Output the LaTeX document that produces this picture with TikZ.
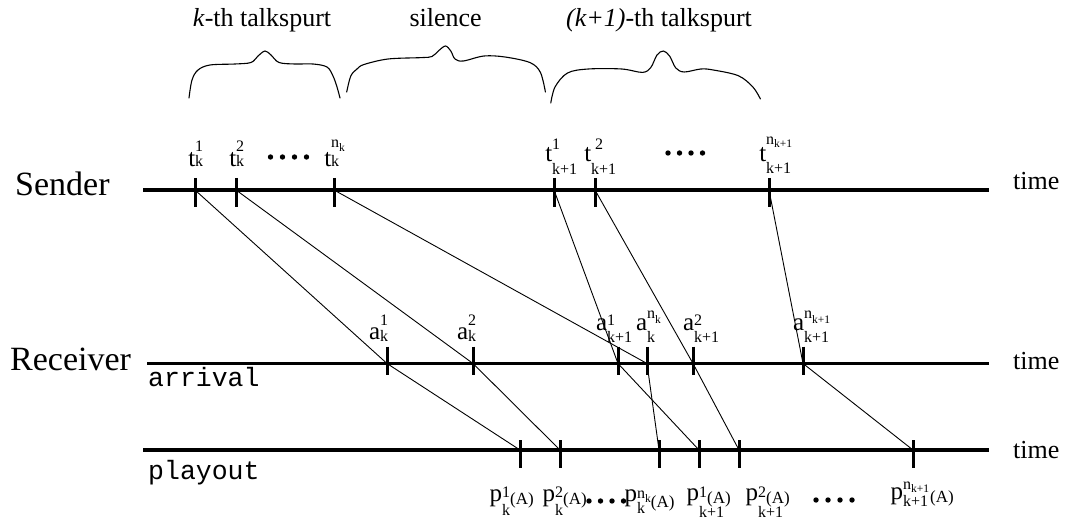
\documentclass[tikz,border=0pt]{standalone}
\usepackage{fontspec}
\setmainfont{Liberation Serif}
\setmonofont{Liberation Mono}
\newcommand\scr{\fontsize{16}{16}\selectfont}
\newcommand\sscr{\fontsize{11.5}{11.5}\selectfont}
\newcommand\afnt{\fontsize{17}{17}\selectfont}
\newcommand\basefnt{\fontsize{25}{25}\selectfont}
% \lab{base}{sup}{sub}{supraise}{subdrop}
\newcommand\lab[5]{\llap{\basefnt #1}\makebox[0pt][l]{\raisebox{#4}{\scr #2}}\raisebox{-#5}{\scr #3}}
\begin{document}
\begin{tikzpicture}[x=1pt,y=-1pt,
  axis/.style={line width=3.3pt},
  tick/.style={line width=3pt},
  conn/.style={line width=0.9pt},
  brace/.style={line width=1.1pt, line join=round, line cap=round},
  lbl/.style={inner sep=0pt, anchor=base west},
  big/.style={inner sep=0pt, anchor=base west, font=\fontsize{34}{34}\selectfont},
  tm/.style={inner sep=0pt, anchor=base west, font=\fontsize{26}{26}\selectfont},
  mono/.style={inner sep=0pt, anchor=base west, font=\ttfamily\fontsize{26.5}{26.5}\selectfont},
  head/.style={inner sep=0pt, anchor=base, font=\fontsize{26}{26}\selectfont}]
\useasboundingbox (0,0) rectangle (1065,521);

% axes
\coordinate (sL) at (143,190); \coordinate (sR) at (989,190);
\coordinate (aL) at (147,363.5); \coordinate (aR) at (989,363.5);
\coordinate (pL) at (143,450); \coordinate (pR) at (989,450);
\draw[axis] (sL) -- (sR);
\draw[axis] (aL) -- (aR);
\draw[axis] (pL) -- (pR);

% tick points
\foreach \n/\x in {s1/195,s2/236,s3/334,s4/554,s5/595,s6/769}{
  \coordinate (\n) at (\x,190);
  \draw[tick] ([yshift=12pt]\n) -- ([yshift=-17pt]\n);}
\foreach \n/\x in {a1/387,a2/473,a3/618,a4/647,a5/693,a6/803}{
  \coordinate (\n) at (\x,363.5);
  \draw[tick] ([yshift=17pt]\n) -- ([yshift=-11.5pt]\n);}
\foreach \n/\x in {p1/520,p2/560,p3/659,p4/699,p5/739,p6/913}{
  \coordinate (\n) at (\x,450);
  \draw[tick] ([yshift=10pt]\n) -- ([yshift=-18pt]\n);}

% connectors
\draw[conn] (s1) -- (a1) -- (p1);
\draw[conn] (s2) -- (a2) -- (p2);
\draw[conn] (s3) -- (a4) -- (p3);
\draw[conn] (s4) -- (a3) -- (p4);
\draw[conn] (s5) -- (a5) -- (p5);
\draw[conn] (s6) -- (a6) -- (p6);

% side texts
\node[big] (snd) at (15,196) {Sender};
\node[big] (rcv) at (10,370) {Receiver};
\node[mono] (arr) at (148,386) {arrival};
\node[mono] (ply) at (148,479) {playout};
\node[tm] (time1) at (1013,190) {time};
\node[tm] (time2) at (1013,369) {time};
\node[tm] (time3) at (1013,458) {time};

% headings
\node[head] (h1) at (262,27) {\textit{k}-th talkspurt};
\node[head] (h2) at (445.6,27) {silence};
\node[head] (h3) at (659,27) {\textit{(k+1)}-th talkspurt};

% braces
\draw[brace] plot[smooth, tension=0.55] coordinates {(189,98) (192,80) (198,70) (210,65) (235,64) (251,62.5) (258,56) (265,51) (271,55) (279,62.5) (295,64) (313,64) (327,67) (333,76) (337,87) (340,98)};
\draw[brace] plot[smooth, tension=0.55] coordinates {(346.7,92) (350.8,76) (357,69) (364,64.5) (388,59) (421.7,57.6) (432,56.5) (438.3,51) (445.4,46) (450.8,51) (455,59) (463.3,61) (484,56) (505,57) (530,62.6) (540.4,72.4) (545.4,92)};
\draw[brace] plot[smooth, tension=0.55] coordinates {(550.8,103) (555,87) (567.5,73) (588.3,69) (621.7,69) (642.5,72.4) (650.8,67.5) (657,55) (663.3,51) (669.6,56) (675.8,68) (684.2,72) (700.8,69) (713.3,70) (738.3,75.7) (752.9,87) (760.4,99)};

% sender labels
\node[lbl] (lt1) at (195,167) {\lab{t}{1}{k}{15pt}{0pt}};
\node[lbl] (lt2) at (236,167) {\lab{t}{2}{k}{15pt}{0pt}};
\node[lbl] (ltn) at (331,167) {\lab{t}{n\raisebox{-4pt}{\sscr k}}{k}{19pt}{0pt}};
\node[lbl] (lu1) at (552,162) {\lab{t}{1}{k+1}{12pt}{13pt}};
\node[lbl] (lu2) at (591,162) {\lab{t}{\hspace{4pt}2}{k+1}{12pt}{13pt}};
\node[lbl] (lun) at (766,162) {\lab{t}{n\raisebox{-3pt}{\sscr k+1}}{k+1}{17pt}{12pt}};

% arrival labels
\node[lbl] (la1) at (380,339) {\lab{a}{1}{k}{13.5pt}{2pt}};
\node[lbl] (la2) at (468,339) {\lab{a}{2}{k}{13.5pt}{2pt}};
\node[lbl] (lb1) at (607,330) {\lab{a}{1}{k+1}{5pt}{12pt}};
\node[lbl] (lan) at (647,330) {\lab{a}{n\raisebox{-5pt}{\sscr k}}{k}{12pt}{12pt}};
\node[lbl] (lb2) at (694,330) {\lab{a}{2}{k+1}{5pt}{12pt}};
\node[lbl] (lbn) at (804,330) {\lab{a}{n\raisebox{-5pt}{\sscr k+1}}{k+1}{12pt}{12pt}};

% playout labels
\node[lbl] (lp1) at (502,501) {\lab{p}{1\raisebox{-7pt}{\afnt(A)}}{k}{4pt}{14pt}};
\node[lbl] (lp2) at (555,501) {\lab{p}{2\raisebox{-7pt}{\afnt(A)}}{k}{4pt}{14pt}};
\node[lbl] (lpn) at (637,501) {\lab{p}{n\raisebox{-4pt}{\sscr k}\raisebox{-9pt}{\afnt(A)}}{k}{3pt}{12pt}};
\node[lbl] (lq1) at (699,500) {\lab{p}{1\raisebox{-6pt}{\afnt(A)}}{k+1}{3pt}{17pt}};
\node[lbl] (lq2) at (758,500) {\lab{p}{2\raisebox{-6pt}{\afnt(A)}}{k+1}{3pt}{17pt}};
\node[lbl] (lqn) at (903,499) {\lab{p}{n\raisebox{-3pt}{\sscr k+1}\hspace{1pt}\raisebox{-13pt}{\afnt(A)}}{k+1}{10pt}{7pt}};

% dots
\foreach \x in {270.5,282.5,294.5,306.5} \fill (\x,157) circle (2.7);
\foreach \x in {668,679.5,691,702.5} \fill (\x,153) circle (2.7);
\foreach \x in {589,600.5,612,623.5} \fill (\x,501) circle (2.7);
\foreach \x in {816,828,840,852} \fill (\x,500) circle (2.7);
\end{tikzpicture}
\end{document}
